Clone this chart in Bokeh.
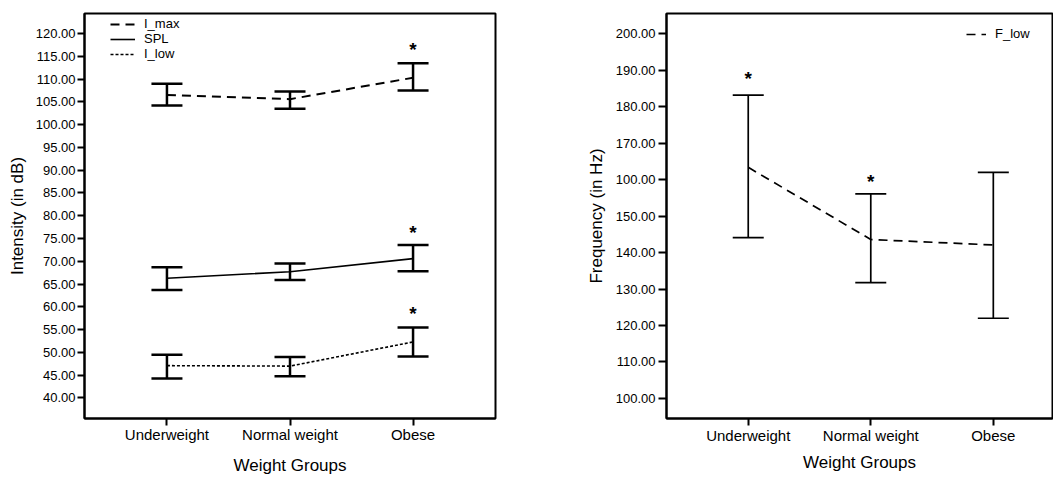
from bokeh.plotting import figure
from bokeh.models import (Range1d, FixedTicker, PrintfTickFormatter, Whisker,
                          TeeHead, ColumnDataSource)
from bokeh.layouts import row
from bokeh.embed import file_html
from bokeh.resources import INLINE
from bokeh.core.properties import value

FONT = "Liberation Sans"

# ---------------- data ----------------
categories = ["Underweight", "Normal weight", "Obese"]
cat_x = [0, 1, 2]

imax_mean = [106.5, 105.6, 110.3]
imax_upper = [109.0, 107.3, 113.5]
imax_lower = [104.2, 103.5, 107.5]

spl_mean = [66.3, 67.7, 70.6]
spl_upper = [68.7, 69.5, 73.6]
spl_lower = [63.7, 65.9, 67.8]

ilow_mean = [47.1, 47.0, 52.3]
ilow_upper = [49.5, 49.0, 55.5]
ilow_lower = [44.3, 44.8, 49.1]

left_star_x = [2, 2, 2]
left_star_y = [117.1, 76.9, 59.2]

flow_mean = [163.4, 143.6, 142.1]
flow_upper = [183.2, 156.1, 162.0]
flow_lower = [144.1, 131.8, 122.0]

right_star_x = [0, 1]
right_star_y = [188.5, 160.3]

left_ticks = [40, 45, 50, 55, 60, 65, 70, 75, 80, 85, 90, 95, 100, 105, 110, 115, 120]
right_ticks = [100, 110, 120, 130, 140, 150, 160, 170, 180, 190, 200]
right_tick_overrides = {160: "100.00"}


def style(p, ylabel, y_ticks, tick_std, lab_std, ylab_std, yt_out, yl_std):
    p.grid.visible = False
    p.outline_line_color = "black"
    p.outline_line_width = 2
    p.background_fill_color = "white"
    p.border_fill_color = "white"
    p.xaxis.ticker = FixedTicker(ticks=cat_x)
    p.xaxis.major_label_overrides = {x: c for x, c in zip(cat_x, categories)}
    p.yaxis.ticker = FixedTicker(ticks=y_ticks)
    p.yaxis.formatter = PrintfTickFormatter(format="%.2f")
    for ax in (p.xaxis[0], p.yaxis[0]):
        ax.axis_line_color = "black"
        ax.axis_line_width = 2
        ax.major_tick_line_color = "black"
        ax.major_tick_line_width = 2
        ax.major_tick_in = 0
        ax.minor_tick_line_color = None
        ax.major_label_text_font = FONT
        ax.major_label_text_color = "black"
        ax.axis_label_text_font = FONT
        ax.axis_label_text_font_style = "normal"
        ax.axis_label_text_color = "black"
        ax.axis_label_text_font_size = "17px"
    p.xaxis.major_tick_out = 7
    p.yaxis.major_tick_out = yt_out
    p.xaxis.major_label_text_font_size = "15px"
    p.yaxis.major_label_text_font_size = "13px"
    p.xaxis.major_label_standoff = tick_std
    p.xaxis.axis_label_standoff = lab_std
    p.yaxis.major_label_standoff = ylab_std
    p.yaxis.axis_label_standoff = yl_std
    p.xaxis.axis_label = "Weight Groups"
    p.yaxis.axis_label = ylabel


def add_series(p, mean, upper, lower, dash, lw, wlw, label):
    src = ColumnDataSource(dict(x=cat_x, mean=mean, upper=upper, lower=lower))
    p.add_layout(Whisker(base="x", upper="upper", lower="lower", source=src,
                         line_color="black", line_width=wlw,
                         upper_head=TeeHead(size=31, line_color="black", line_width=wlw),
                         lower_head=TeeHead(size=31, line_color="black", line_width=wlw)))
    p.line("x", "mean", source=src, line_color="black", line_width=lw,
           line_dash=dash, legend_label=label)


def stars(p, xs, ys):
    p.text(x=xs, y=ys, text=["*"] * len(xs), text_font=value(FONT),
           text_font_size="19px", text_font_style="bold", text_color="black",
           text_align="center", text_baseline="middle", y_offset=3)


def style_legend(p, loc, gw):
    lg = p.legend[0]
    lg.location = loc
    lg.background_fill_alpha = 0
    lg.border_line_color = None
    lg.padding = 2
    lg.margin = 0
    lg.spacing = 0
    lg.glyph_height = 12
    lg.label_height = 12
    lg.glyph_width = gw
    lg.label_standoff = 9
    lg.label_text_font = FONT
    lg.label_text_font_size = "13px"
    lg.label_text_color = "black"


# ---------------- left chart ----------------
p1 = figure(width=540, height=477, x_range=Range1d(-0.67, 2.67),
            y_range=Range1d(35.5, 124.4), output_backend="svg",
            toolbar_location=None, min_border_left=84, min_border_right=45,
            min_border_top=13, min_border_bottom=57)
style(p1, "Intensity (in dB)", left_ticks, 0, 10, 2, 7, 6)
add_series(p1, imax_mean, imax_upper, imax_lower, "9 6", 2, 2.5, "I_max")
add_series(p1, spl_mean, spl_upper, spl_lower, "solid", 1.6, 2.5, "SPL")
add_series(p1, ilow_mean, ilow_upper, ilow_lower, "3 2", 1.6, 2.5, "I_low")
stars(p1, left_star_x, left_star_y)
style_legend(p1, (26, 357), 25)

# ---------------- right chart ----------------
p2 = figure(width=513, height=477, x_range=Range1d(-0.667, 2.483),
            y_range=Range1d(94.5, 205.6), output_backend="svg",
            toolbar_location=None, min_border_left=126, min_border_right=1,
            min_border_top=12, min_border_bottom=57)
style(p2, "Frequency (in Hz)", right_ticks, 1, 6, 3, 8, 7)
p2.yaxis.major_label_overrides = right_tick_overrides
add_series(p2, flow_mean, flow_upper, flow_lower, "9 6", 1.7, 1.7, "F_low")
stars(p2, right_star_x, right_star_y)
style_legend(p2, (300, 377), 20)

layout = row(p1, p2)
open("out.html", "w").write(file_html(layout, INLINE))
